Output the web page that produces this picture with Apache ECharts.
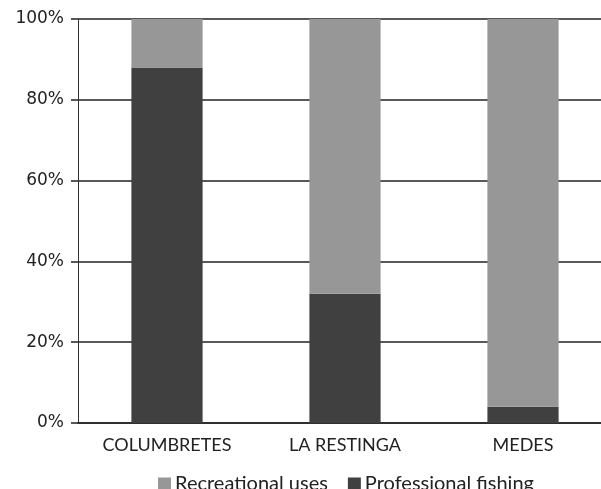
<!DOCTYPE html>
<html>
<head>
<meta charset="utf-8">
<script src="https://cdn.jsdelivr.net/npm/echarts@6/dist/echarts.min.js"></script>
<style>
  html, body { margin: 0; padding: 0; background: #fff; }
  #chart { width: 601px; height: 489px; }
</style>
</head>
<body>
<div id="chart"></div>
<script>
// Share of uses per marine reserve (percent)
const sites = ['COLUMBRETES', 'LA RESTINGA', 'MEDES'];
const professionalFishing = [88, 32, 4];
const recreationalUses = [12, 68, 96];
const yTicks = [0, 20, 40, 60, 80, 100];

const chart = echarts.init(document.getElementById('chart'));
chart.setOption({
  animation: false,
  backgroundColor: '#ffffff',
  // plot area runs a little past the right edge of the canvas
  grid: { left: 78, width: 534, top: 19, bottom: 66, containLabel: false, outerBoundsMode: 'none' },
  legend: {
    data: ['Recreational uses', 'Professional fishing'],
    top: 469,
    left: 153,
    itemWidth: 13,
    itemHeight: 13,
    itemGap: 20,
    icon: 'rect',
    textStyle: { fontFamily: 'Lato', fontSize: 20, color: '#222', padding: [0, 0, 0, -1] }
  },
  xAxis: {
    type: 'category',
    data: sites,
    axisLine: { show: true, lineStyle: { color: '#222', width: 1.5 } },
    axisTick: { show: false },
    axisLabel: { fontFamily: 'Lato', fontSize: 18, color: '#222', margin: 13 }
  },
  yAxis: {
    type: 'value',
    min: yTicks[0],
    max: yTicks[yTicks.length - 1],
    interval: 20,
    axisLine: { show: true, lineStyle: { color: '#333', width: 1 } },
    axisTick: { show: true, length: 7, lineStyle: { color: '#222', width: 1.5 } },
    axisLabel: { fontFamily: 'DejaVu Sans', fontSize: 17, color: '#222', margin: 14, formatter: '{value}%' },
    splitLine: { show: true, lineStyle: { color: '#222', width: 1.5 } }
  },
  series: [
    {
      name: 'Professional fishing',
      type: 'bar',
      stack: 'total',
      barWidth: '40%',
      data: professionalFishing,
      itemStyle: { color: '#404040' }
    },
    {
      name: 'Recreational uses',
      type: 'bar',
      stack: 'total',
      barWidth: '40%',
      data: recreationalUses,
      itemStyle: { color: '#979797' }
    }
  ]
});
</script>
</body>
</html>
